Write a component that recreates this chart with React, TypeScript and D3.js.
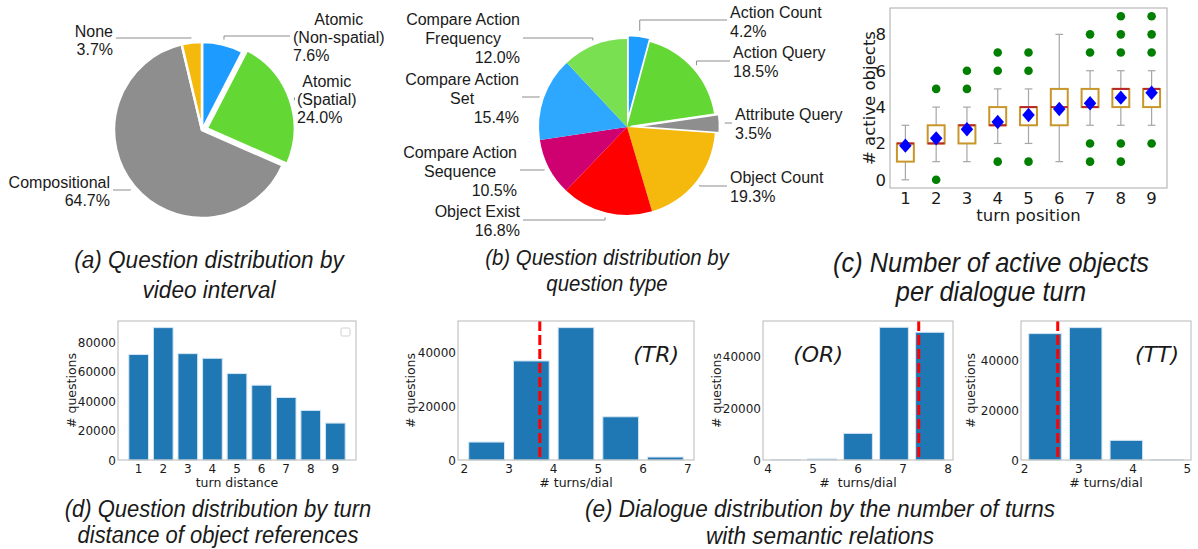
import React, { useEffect, useRef } from 'react';
import * as d3 from 'd3';

const W = 1198;
const H = 549;

// (a) question distribution by video interval
const intervalLabels = ['Atomic\n(Non-spatial)', 'Atomic\n(Spatial)', 'Compositional', 'None'];
const intervalValues = [7.6, 24.0, 64.7, 3.7];
const intervalColors = ['#1e9bff', '#63d834', '#8e8e8e', '#f5b80c'];

// (b) question distribution by question type
const typeLabels = [
  'Action Count',
  'Action Query',
  'Attribute Query',
  'Object Count',
  'Object Exist',
  'Compare Action\nSequence',
  'Compare Action\nSet',
  'Compare Action\nFrequency',
];
const typeValues = [4.2, 18.5, 3.5, 19.3, 16.8, 10.5, 15.4, 12.0];
const typeColors = ['#1e9bff', '#63d834', '#8e8e8e', '#f5b80c', '#fe0000', '#cf0070', '#2ea8ff', '#79e052'];

// (c) number of active objects per dialogue turn
const turnPositions = [1, 2, 3, 4, 5, 6, 7, 8, 9];
const boxQ1 = [1, 2, 2, 3, 3, 3, 4, 4, 4];
const boxMedian = [2, 2, 3, 3, 4, 4, 4, 5, 5];
const boxQ3 = [2, 3, 3, 4, 4, 5, 5, 5, 5];
const whiskerLow = [0, 1, 1, 2, 2, 1, 3, 3, 3];
const whiskerHigh = [3, 4, 4, 5, 5, 8, 6, 6, 6];
const boxMeans = [1.88, 2.28, 2.78, 3.18, 3.56, 3.89, 4.21, 4.52, 4.79];
const boxFliers = [[], [0, 5], [5, 6], [1, 6, 7], [1, 6, 7], [], [1, 2, 7, 8], [1, 2, 7, 8, 9], [2, 7, 8, 9]];
const boxYTicks = [0, 2, 4, 6, 8];

// (d) question distribution by turn distance
const turnDistances = [1, 2, 3, 4, 5, 6, 7, 8, 9];
const distanceCounts = [71700, 90000, 72300, 69150, 58760, 50850, 42500, 33700, 25100];
const distanceYTicks = [0, 20000, 40000, 60000, 80000];

// (e) dialogue distribution by number of turns with semantic relations
const trBinStarts = [2, 3, 4, 5, 6];
const trCounts = [6710, 37020, 49470, 16150, 1100];
const trTicks = [2, 3, 4, 5, 6, 7];
const trMean = 3.69;

const orBinStarts = [4, 4.8, 5.6, 6.4, 7.2];
const orCounts = [60, 420, 10270, 51160, 49240];
const orTicks = [4, 5, 6, 7, 8];
const orMean = 7.35;

const ttBinStarts = [2, 2.75, 3.5, 4.25];
const ttCounts = [50670, 53070, 7870, 150];
const ttTicks = [2, 3, 4, 5];
const ttMean = 2.61;

const histYTicks = [0, 20000, 40000];

type Sel = d3.Selection<SVGGElement, unknown, null, undefined>;

const PIE_FONT = '"Liberation Sans", Arial, Helvetica, sans-serif';
const MPL_FONT = '"DejaVu Sans", sans-serif';
const SMALL = 12.5;
const TICK = 12;

interface LabelLayout {
  side: 'L' | 'R';
  edge: number;
  y: number; // first baseline
  lineY: number; // leader line level
}

function drawPie(
  root: Sel,
  values: number[],
  labels: string[],
  colors: string[],
  explode: number[],
  strokeAll: boolean,
  cx: number,
  cy: number,
  r: number,
  layout: LabelLayout[],
  gap: number
) {
  const g = root.append('g').attr('transform', `translate(${cx},${cy})`);
  const pie = d3.pie<number>().sort(null).value(d => d);
  const arcs = pie(values);
  const arc = d3.arc<d3.PieArcDatum<number>>().innerRadius(0).outerRadius(r);

  arcs.forEach((a, i) => {
    const mid = (a.startAngle + a.endAngle) / 2;
    const dx = explode[i] * Math.sin(mid);
    const dy = -explode[i] * Math.cos(mid);
    g.append('path')
      .attr('d', arc(a) as string)
      .attr('transform', `translate(${dx},${dy})`)
      .attr('fill', colors[i])
      .attr('stroke', strokeAll || explode[i] > 0 ? '#fff' : 'none')
      .attr('stroke-width', 2.5)
      .attr('stroke-linejoin', 'round');
  });

  arcs.forEach((a, i) => {
    const mid = (a.startAngle + a.endAngle) / 2;
    const rr = r + 5 + explode[i];
    const px = cx + rr * Math.sin(mid);
    const py = cy - rr * Math.cos(mid);
    const lay = layout[i];
    const endX = lay.side === 'R' ? lay.edge - 3 : lay.edge + 3;
    root
      .append('path')
      .attr('d', d3.line()([[px, py], [px, lay.lineY], [endX, lay.lineY]]) as string)
      .attr('fill', 'none')
      .attr('stroke', '#8c8c8c')
      .attr('stroke-width', 1);

    const lines = labels[i].split('\n');
    const pct = `${values[i].toFixed(1)}%`;
    const tg = root.append('g').attr('font-family', PIE_FONT).attr('font-size', 16).attr('fill', '#1a1a1a');
    const nameNodes = lines.map((ln, k) => tg.append('text').attr('y', lay.y + k * gap).text(ln));
    const pctNode = tg.append('text').attr('y', lay.y + lines.length * gap).text(pct);
    const widths = [...nameNodes, pctNode].map(n => (n.node() as SVGTextElement).getComputedTextLength());
    const bw = Math.max(...widths);
    const center = lay.side === 'R' ? lay.edge + bw / 2 : lay.edge - bw / 2;
    nameNodes.forEach(n => n.attr('x', center).attr('text-anchor', 'middle'));
    pctNode.attr('x', lay.edge).attr('text-anchor', lay.side === 'R' ? 'start' : 'end');
  });
}

interface BarPanel {
  x0: number;
  x1: number;
  y0: number;
  y1: number;
  xDomain: [number, number];
  yMax: number;
  centers: number[];
  width: number;
  counts: number[];
  xTicks: number[];
  yTicks: number[];
  xLabel: string;
  yLabelX: number;
  mean?: number;
  tag?: string;
  tagFx?: number;
  legend?: boolean;
}

function drawBarPanel(root: Sel, p: BarPanel) {
  const x = d3.scaleLinear().domain(p.xDomain).range([p.x0, p.x1]);
  const y = d3.scaleLinear().domain([0, p.yMax]).range([p.y1, p.y0]);
  const g = root.append('g').attr('font-family', MPL_FONT).attr('fill', '#1a1a1a');

  g.selectAll('rect.bar')
    .data(p.counts)
    .enter()
    .append('rect')
    .attr('class', 'bar')
    .attr('x', (_, i) => x(p.centers[i] - p.width / 2))
    .attr('width', x(p.width) - x(0))
    .attr('y', d => y(d))
    .attr('height', d => y(0) - y(d))
    .attr('fill', '#1f77b4')
    .attr('stroke', '#d4e5f3')
    .attr('stroke-width', 1);

  if (p.mean !== undefined) {
    g.append('line')
      .attr('x1', x(p.mean))
      .attr('x2', x(p.mean))
      .attr('y1', p.y0)
      .attr('y2', p.y1)
      .attr('stroke', '#ff0000')
      .attr('stroke-width', 3)
      .attr('stroke-dasharray', '10,4');
  }

  g.append('rect')
    .attr('x', p.x0)
    .attr('y', p.y0)
    .attr('width', p.x1 - p.x0)
    .attr('height', p.y1 - p.y0)
    .attr('fill', 'none')
    .attr('stroke', '#b8b8b8')
    .attr('stroke-width', 1);

  g.selectAll('text.xt')
    .data(p.xTicks)
    .enter()
    .append('text')
    .attr('class', 'xt')
    .attr('x', d => x(d))
    .attr('y', p.y1 + 12.5)
    .attr('text-anchor', 'middle')
    .attr('font-size', TICK)
    .text(d => d);

  g.selectAll('text.yt')
    .data(p.yTicks)
    .enter()
    .append('text')
    .attr('class', 'yt')
    .attr('x', p.x0 - 2)
    .attr('y', d => y(d) + 4.5)
    .attr('text-anchor', 'end')
    .attr('font-size', TICK)
    .text(d => d);

  g.append('text')
    .attr('x', (p.x0 + p.x1) / 2)
    .attr('y', p.y1 + 26.5)
    .attr('text-anchor', 'middle')
    .attr('font-size', SMALL)
    .style('white-space', 'pre')
    .text(p.xLabel);

  g.append('text')
    .attr('transform', `translate(${p.yLabelX + 4},${(p.y0 + p.y1) / 2}) rotate(-90)`)
    .attr('text-anchor', 'middle')
    .attr('font-size', SMALL)
    .text('# questions');

  if (p.tag) {
    g.append('text')
      .attr('x', p.x0 + (p.x1 - p.x0) * (p.tagFx ?? 0.8))
      .attr('y', p.y0 + 41)
      .attr('text-anchor', 'middle')
      .attr('font-size', 22)
      .attr('font-style', 'oblique')
      .text(p.tag);
  }

  if (p.legend) {
    g.append('rect')
      .attr('x', p.x1 - 15)
      .attr('y', p.y0 + 7)
      .attr('width', 9)
      .attr('height', 8)
      .attr('rx', 1.5)
      .attr('fill', '#fff')
      .attr('stroke', '#d0d0d0');
  }
}

function drawBox(root: Sel) {
  const x0 = 890;
  const x1 = 1167;
  const y0 = 8;
  const y1 = 188;
  const x = d3.scaleLinear().domain([0.5, 9.5]).range([x0, x1]);
  const y = d3.scaleLinear().domain([-0.45, 9.45]).range([y1, y0]);
  const g = root.append('g').attr('font-family', MPL_FONT).attr('fill', '#1a1a1a');
  const bw = 0.55;
  const cw = 0.25;

  turnPositions.forEach((t, i) => {
    const w = g.append('g').attr('stroke', '#a6a6a6').attr('stroke-width', 1.2);
    w.append('line').attr('x1', x(t)).attr('x2', x(t)).attr('y1', y(whiskerLow[i])).attr('y2', y(boxQ1[i]));
    w.append('line').attr('x1', x(t)).attr('x2', x(t)).attr('y1', y(boxQ3[i])).attr('y2', y(whiskerHigh[i]));
    w.append('line').attr('x1', x(t - cw / 2)).attr('x2', x(t + cw / 2)).attr('y1', y(whiskerLow[i])).attr('y2', y(whiskerLow[i]));
    w.append('line').attr('x1', x(t - cw / 2)).attr('x2', x(t + cw / 2)).attr('y1', y(whiskerHigh[i])).attr('y2', y(whiskerHigh[i]));

    g.append('rect')
      .attr('x', x(t - bw / 2))
      .attr('width', x(bw) - x(0))
      .attr('y', y(boxQ3[i]))
      .attr('height', y(boxQ1[i]) - y(boxQ3[i]))
      .attr('fill', '#fff')
      .attr('stroke', '#c9962a')
      .attr('stroke-width', 2);

    g.append('line')
      .attr('x1', x(t - bw / 2))
      .attr('x2', x(t + bw / 2))
      .attr('y1', y(boxMedian[i]))
      .attr('y2', y(boxMedian[i]))
      .attr('stroke', '#b8262b')
      .attr('stroke-width', 2);

    boxFliers[i].forEach(v => {
      g.append('circle').attr('cx', x(t)).attr('cy', y(v)).attr('r', 4.3).attr('fill', '#007f00');
    });
  });

  const diamond = d3.symbol().type(d3.symbolDiamond2).size(110);
  turnPositions.forEach((t, i) => {
    g.append('path')
      .attr('d', diamond() as string)
      .attr('transform', `translate(${x(t)},${y(boxMeans[i])}) scale(0.95,1.1)`)
      .attr('fill', '#0000ff');
  });

  g.append('rect')
    .attr('x', x0)
    .attr('y', y0)
    .attr('width', x1 - x0)
    .attr('height', y1 - y0)
    .attr('fill', 'none')
    .attr('stroke', '#aaaaaa')
    .attr('stroke-width', 1);

  g.selectAll('text.xt')
    .data(turnPositions)
    .enter()
    .append('text')
    .attr('class', 'xt')
    .attr('x', d => x(d))
    .attr('y', y1 + 16)
    .attr('text-anchor', 'middle')
    .attr('font-size', 16.5)
    .text(d => d);

  g.selectAll('text.yt')
    .data(boxYTicks)
    .enter()
    .append('text')
    .attr('class', 'yt')
    .attr('x', x0 - 4)
    .attr('y', d => y(d) + 6)
    .attr('text-anchor', 'end')
    .attr('font-size', 16.5)
    .text(d => d);

  g.append('text')
    .attr('x', (x0 + x1) / 2)
    .attr('y', y1 + 33)
    .attr('text-anchor', 'middle')
    .attr('font-size', 16.5)
    .text('turn position');

  g.append('text')
    .attr('transform', `translate(${875},${(y0 + y1) / 2}) rotate(-90)`)
    .attr('text-anchor', 'middle')
    .attr('font-size', 16.5)
    .text('# active objects');
}

function drawCaption(root: Sel, lines: string[], cx: number, baselines: number[], size: number) {
  const g = root
    .append('g')
    .attr('transform', `translate(${cx},0) scale(0.94,1)`)
    .attr('font-family', PIE_FONT)
    .attr('font-style', 'italic')
    .attr('font-size', size)
    .attr('fill', '#1a1a1a');
  lines.forEach((ln, i) => {
    g.append('text').attr('x', 0).attr('y', baselines[i]).attr('text-anchor', 'middle').text(ln);
  });
}

const App: React.FC = () => {
  const svgRef = useRef<SVGSVGElement | null>(null);

  useEffect(() => {
    const svg = d3.select(svgRef.current);
    svg.selectAll('*').remove();
    const root = svg.append('g') as unknown as Sel;
    root.append('rect').attr('width', W).attr('height', H).attr('fill', '#fff');

    // (a)
    drawPie(root, intervalValues, intervalLabels, intervalColors, [0, 5, 0, 0], true, 202, 130, 88, [
      { side: 'R', edge: 293, y: 24.5, lineY: 36 },
      { side: 'R', edge: 297, y: 86.5, lineY: 100 },
      { side: 'L', edge: 110, y: 188, lineY: 190 },
      { side: 'L', edge: 113, y: 36.5, lineY: 38 },
    ], 18.3);

    // (b)
    drawPie(root, typeValues, typeLabels, typeColors, [4, 0, 5, 0, 0, 0, 0, 0], false, 627, 127, 88, [
      { side: 'R', edge: 730, y: 17.7, lineY: 20 },
      { side: 'R', edge: 733, y: 58, lineY: 61 },
      { side: 'R', edge: 735, y: 119.5, lineY: 123 },
      { side: 'R', edge: 730, y: 183, lineY: 186 },
      { side: 'L', edge: 520, y: 216.5, lineY: 220 },
      { side: 'L', edge: 517, y: 158, lineY: 170 },
      { side: 'L', edge: 519, y: 85, lineY: 97 },
      { side: 'L', edge: 520, y: 25, lineY: 38 },
    ], 19);

    // (c)
    drawBox(root);

    // (d)
    drawBarPanel(root, {
      x0: 118, x1: 356, y0: 321, y1: 460,
      xDomain: [0.16, 9.84], yMax: 94500,
      centers: turnDistances, width: 0.8, counts: distanceCounts,
      xTicks: turnDistances, yTicks: distanceYTicks,
      xLabel: 'turn distance', yLabelX: 72, legend: true,
    });

    // (e)
    drawBarPanel(root, {
      x0: 458, x1: 694, y0: 321, y1: 460,
      xDomain: [1.86, 7.14], yMax: 51944,
      centers: trBinStarts.map(b => b + 0.5), width: 0.8, counts: trCounts,
      xTicks: trTicks, yTicks: histYTicks,
      xLabel: '# turns/dial', yLabelX: 411, mean: trMean, tag: '(TR)', tagFx: 0.84,
    });
    drawBarPanel(root, {
      x0: 763, x1: 953, y0: 321, y1: 460,
      xDomain: [3.888, 8.112], yMax: 53592,
      centers: orBinStarts.map(b => b + 0.4), width: 0.64, counts: orCounts,
      xTicks: orTicks, yTicks: histYTicks,
      xLabel: '#  turns/dial', yLabelX: 717, mean: orMean, tag: '(OR)', tagFx: 0.29,
    });
    drawBarPanel(root, {
      x0: 1021, x1: 1191, y0: 321, y1: 460,
      xDomain: [1.9325, 5.0675], yMax: 55724,
      centers: ttBinStarts.map(b => b + 0.375), width: 0.6, counts: ttCounts,
      xTicks: ttTicks, yTicks: histYTicks,
      xLabel: '# turns/dial', yLabelX: 971, mean: ttMean, tag: '(TT)', tagFx: 0.8,
    });

    // captions
    drawCaption(root, ['(a) Question distribution by', 'video interval'], 209, [268, 298], 24);
    drawCaption(root, ['(b) Question distribution by', 'question type'], 607, [265, 291], 21.7);
    drawCaption(root, ['(c) Number of active objects', 'per dialogue turn'], 991, [272, 301], 27);
    drawCaption(root, ['(d) Question distribution by turn', 'distance of object references'], 218, [517, 543], 23.4);
    drawCaption(root, ['(e) Dialogue distribution by the number of turns', 'with semantic relations'], 820, [517, 544], 24);
  }, []);

  return (
    <svg
      ref={svgRef}
      width={W}
      height={H}
      style={{ position: 'absolute', left: 0, top: 0, background: '#fff' }}
    ></svg>
  );
};

export default App;
